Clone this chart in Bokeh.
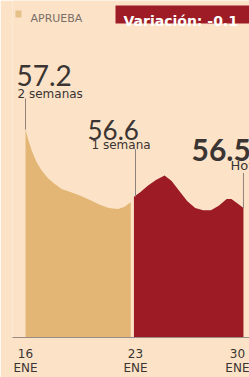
from bokeh.plotting import figure
from bokeh.models import Range1d, FixedTicker, Label, BoxAnnotation
from bokeh.embed import file_html
from bokeh.resources import INLINE

# ---------------- data ----------------
tick_days = [16, 23, 30]
tick_labels = ["16\nENE", "23\nENE", "30\nENE"]

prev_days = [16.0, 16.15, 16.4, 16.7, 17.0, 17.4, 17.8, 18.3, 18.9, 19.5,
             20.1, 20.7, 21.3, 21.9, 22.3, 22.7]
prev_vals = [57.20, 57.12, 57.01, 56.91, 56.84, 56.77, 56.72, 56.67, 56.64, 56.61,
             56.57, 56.53, 56.50, 56.49, 56.51, 56.55]

week_days = [22.9, 23.3, 23.8, 24.3, 24.85, 25.3, 25.8, 26.3, 26.8, 27.3,
             27.8, 28.3, 28.8, 29.1, 29.5, 29.87]
week_vals = [56.60, 56.64, 56.70, 56.75, 56.79, 56.74, 56.65, 56.56, 56.50, 56.48,
             56.48, 56.52, 56.58, 56.58, 56.54, 56.50]

mark_days = [16, 23, 29.87]
mark_vals = [57.2, 56.6, 56.5]
mark_texts = ["57.2", "56.6", "56.5"]
mark_captions = ["2 semanas", "1 semana", "Hoy"]

legend_text = "APRUEBA"
variation_text = "Variación: -0.1"

# ---------------- style ----------------
BG = "#fce3c7"
TAN = "#e3b675"
RED = "#9c1b24"
INK = "#3a3433"
LEAD = "#8f827b"

X_START, X_END = 15.1727, 30.2545
Y_START, Y_END = 55.3434, 58.3522

p = figure(width=249, height=377, output_backend="svg", toolbar_location=None,
           x_range=Range1d(X_START, X_END), y_range=Range1d(Y_START, Y_END),
           y_axis_location=None, min_border_left=12, min_border_right=0,
           min_border_top=0, min_border_bottom=37,
           background_fill_color=BG, border_fill_color=BG, outline_line_color=None)
p.grid.visible = False

p.varea(x=prev_days, y1=[Y_START] * len(prev_days), y2=prev_vals, fill_color=TAN)
p.varea(x=week_days, y1=[Y_START] * len(week_days), y2=week_vals, fill_color=RED)

# leader lines from captions down to the marked values
lead_tops = [57.476, 57.025, 56.812]
p.segment(x0=mark_days, x1=mark_days, y0=lead_tops, y1=mark_vals,
          line_color=LEAD, line_width=1)

ax = p.xaxis[0]
ax.ticker = FixedTicker(ticks=tick_days)
ax.major_label_overrides = {d: t for d, t in zip(tick_days, tick_labels)}
ax.axis_line_color = "#9a8c84"
ax.axis_line_width = 1
ax.major_tick_line_color = None
ax.minor_tick_line_color = None
ax.major_tick_out = 0
ax.major_tick_in = 0
ax.major_label_standoff = 9
ax.major_label_text_font = "DejaVu Sans"
ax.major_label_text_font_size = "12px"
ax.major_label_text_color = INK
ax.major_label_text_line_height = 1.0


def sx(rx):
    return rx - 12


def sy(ry):
    return 340 - ry


def lab(text, rx, ry, font, size, color=INK, style="normal"):
    p.add_layout(Label(x=sx(rx), y=sy(ry), x_units="screen", y_units="screen",
                       text=text, text_font=font, text_font_size=size,
                       text_color=color, text_font_style=style,
                       text_baseline="alphabetic", text_align="left"))


# header: legend and variation box
p.add_layout(BoxAnnotation(left=sx(15), right=sx(21), top=sy(13), bottom=sy(20),
                           left_units="screen", right_units="screen",
                           top_units="screen", bottom_units="screen",
                           fill_color="#e6c189", fill_alpha=1, line_color=None))
lab(legend_text, 30, 21, "DejaVu Sans", "11px", color="#7a6e68")
p.add_layout(BoxAnnotation(left=sx(115), right=sx(262), top=sy(8), bottom=sy(26),
                           left_units="screen", right_units="screen",
                           top_units="screen", bottom_units="screen",
                           fill_color="#9e1c25", fill_alpha=1, line_color=None))
lab(variation_text, 123, 23, "DejaVu Sans", "14px", color="white", style="bold")

# value annotations
lab(mark_texts[0], 16, 78, "Lato", "28px")
lab(mark_captions[0], 17, 96, "DejaVu Sans", "12px")
lab(mark_texts[1], 87, 132, "Lato", "26px")
lab(mark_captions[1], 91, 147, "DejaVu Sans", "12px")
lab(mark_texts[2], 191, 152, "Lato", "30px", style="bold")
lab(mark_captions[2], 230, 168, "DejaVu Sans", "13px")

open("out.html", "w").write(file_html(p, INLINE))
